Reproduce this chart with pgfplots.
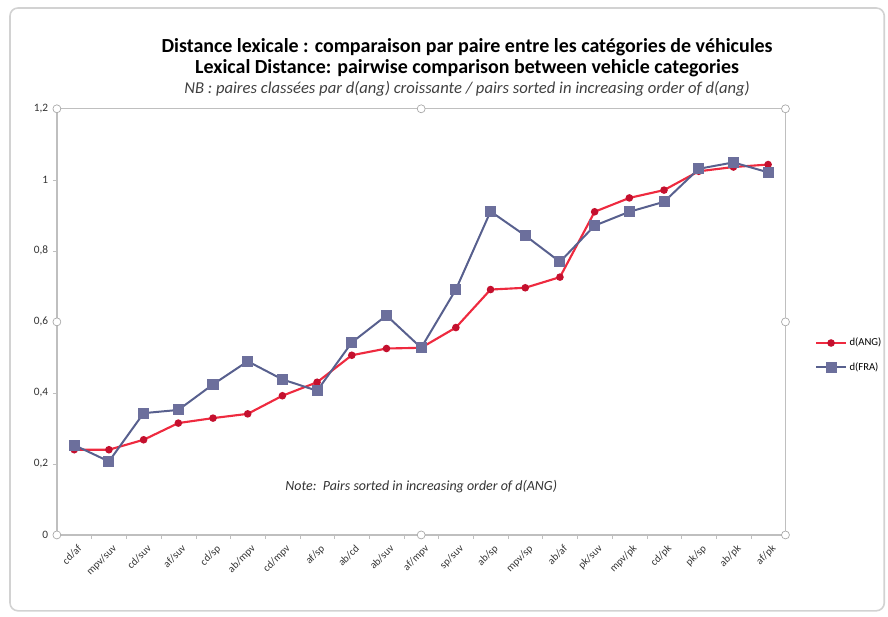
\documentclass[border=0pt]{standalone}
\usepackage{pgfplots}
\pgfplotsset{compat=1.18}
\usepackage{fontspec}
\setmainfont{Carlito}
\definecolor{angline}{HTML}{EE2A3F}
\definecolor{angmark}{HTML}{C4102E}
\definecolor{fraline}{HTML}{58608E}
\definecolor{framark}{HTML}{6C6F9C}
\definecolor{framegray}{HTML}{BFBFBF}
\begin{document}
\begin{tikzpicture}
\path (0pt,0pt) rectangle (666pt,463.5pt);
\draw[framegray!70, line width=1.2pt, rounded corners=6pt] (7.5pt,4.5pt) rectangle (664.5pt,457.5pt);
\node[font=\bfseries\fontsize{15}{17}\selectfont] at (351pt,428pt) {Distance lexicale : comparaison par paire entre les catégories de véhicules};
\node[font=\bfseries\fontsize{15}{17}\selectfont] at (351pt,412pt) {Lexical Distance: pairwise comparison between vehicle categories};
\node[font=\itshape\fontsize{12.5}{14}\selectfont, text=black!75] at (351pt,397pt) {NB : paires classées par d(ang) croissante / pairs sorted in increasing order of d(ang)};
\begin{axis}[
  at={(42.75pt,61.5pt)}, anchor=south west,
  scale only axis, width=547.5pt, height=320.25pt,
  xmin=-0.5, xmax=20.5, ymin=0, ymax=1.2,
  xtick={0,...,20},
  xticklabels={cd/af,mpv/suv,cd/suv,af/suv,cd/sp,ab/mpv,cd/mpv,af/sp,ab/cd,ab/suv,af/mpv,sp/suv,ab/sp,mpv/sp,ab/af,pk/suv,mpv/pk,cd/pk,pk/sp,ab/pk,af/pk},
  x tick label style={rotate=45, anchor=north east, font=\fontsize{8}{9}\selectfont, text=black!80, inner sep=1pt, yshift=-3pt},
  major x tick style={draw=none},
  minor xtick={-0.5,0.5,...,20.5},
  minor x tick style={framegray},
  minor tick length=3pt,
  ytick={0,0.2,0.4,0.6,0.8,1,1.2},
  yticklabels={0,{0,2},{0,4},{0,6},{0,8},1,{1,2}},
  y tick label style={font=\fontsize{8.5}{9}\selectfont, text=black!80},
  /pgf/number format/assume math mode=true,
  major tick length=3pt,
  tick align=outside,
  ytick pos=left, xtick pos=bottom,
  y tick style={framegray},
  axis line style={framegray, line width=1pt},
  clip=false,
  legend style={at={(1.035,0.475)}, anchor=north west, draw=none, fill=none, font=\fontsize{8}{9}\selectfont, row sep=7pt, legend cell align=left},
  legend image code/.code={\draw[#1] (0pt,0pt) -- (0.78cm,0pt); \draw[#1, mark repeat=2, mark phase=2] plot coordinates {(0pt,0pt) (0.39cm,0pt) (0.78cm,0pt)};},
]
\addplot[angline, line width=1.6pt, mark=*, mark size=2pt, mark options={fill=angmark, draw=angmark}] coordinates {
(0,0.240) (1,0.240) (2,0.268) (3,0.315) (4,0.329) (5,0.341) (6,0.392) (7,0.430) (8,0.506) (9,0.525) (10,0.527) (11,0.584) (12,0.691) (13,0.696) (14,0.726) (15,0.910) (16,0.949) (17,0.971) (18,1.024) (19,1.036) (20,1.043)};
\addlegendentry{d(ANG)}
\addplot[fraline, line width=1.5pt, mark=square*, mark size=3.4pt, mark options={fill=framark, draw=framark}] coordinates {
(0,0.253) (1,0.207) (2,0.343) (3,0.352) (4,0.424) (5,0.489) (6,0.438) (7,0.406) (8,0.542) (9,0.618) (10,0.527) (11,0.691) (12,0.911) (13,0.843) (14,0.769) (15,0.871) (16,0.910) (17,0.938) (18,1.031) (19,1.049) (20,1.021)};
\addlegendentry{d(FRA)}
\node[font=\itshape\fontsize{10.5}{12}\selectfont, text=black!80] at (axis cs:10,0.137) {Note:\ \ Pairs sorted in increasing order of d(ANG)};
\draw[black!35, fill=white, line width=0.5pt] (rel axis cs:0,0) circle (3pt);
\draw[black!35, fill=white, line width=0.5pt] (rel axis cs:0.5,0) circle (3pt);
\draw[black!35, fill=white, line width=0.5pt] (rel axis cs:1,0) circle (3pt);
\draw[black!35, fill=white, line width=0.5pt] (rel axis cs:0,0.5) circle (3pt);
\draw[black!35, fill=white, line width=0.5pt] (rel axis cs:1,0.5) circle (3pt);
\draw[black!35, fill=white, line width=0.5pt] (rel axis cs:0,1) circle (3pt);
\draw[black!35, fill=white, line width=0.5pt] (rel axis cs:0.5,1) circle (3pt);
\draw[black!35, fill=white, line width=0.5pt] (rel axis cs:1,1) circle (3pt);
\end{axis}
\end{tikzpicture}
\end{document}
